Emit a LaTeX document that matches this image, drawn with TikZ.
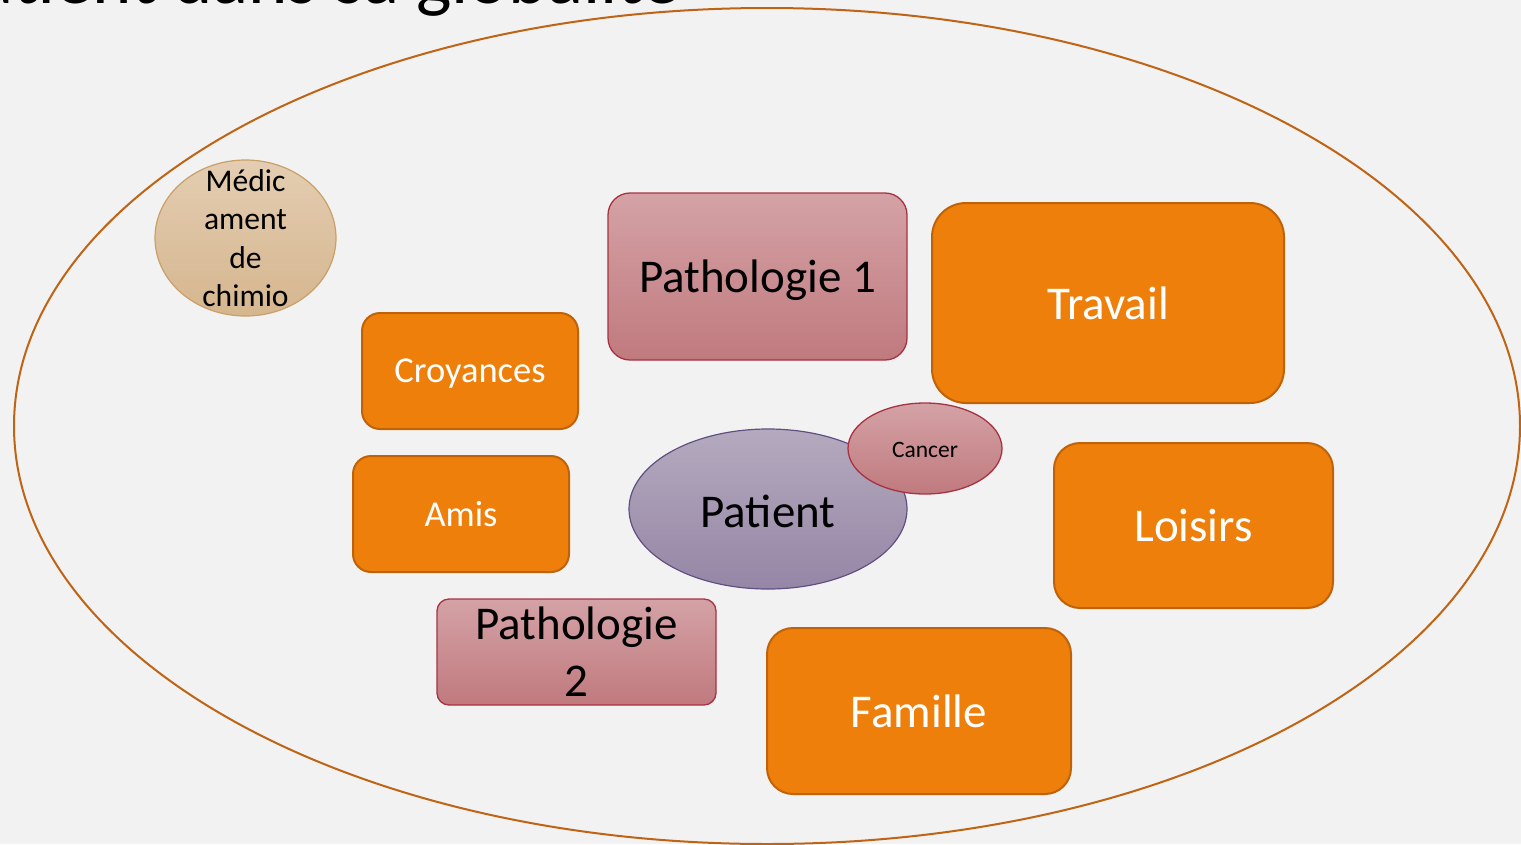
\documentclass[tikz,border=0pt]{standalone}
\usepackage{fontspec}
\setmainfont{Carlito}
\usetikzlibrary{shapes.geometric}
\definecolor{bg}{RGB}{242,242,242}
\definecolor{orfill}{RGB}{239,127,11}
\definecolor{ordraw}{RGB}{192,98,8}
\definecolor{pttop}{RGB}{212,162,166}
\definecolor{ptbot}{RGB}{192,122,126}
\definecolor{ptdraw}{RGB}{168,50,66}
\definecolor{patop}{RGB}{180,170,190}
\definecolor{pabot}{RGB}{150,134,166}
\definecolor{padraw}{RGB}{96,80,130}
\definecolor{metop}{RGB}{228,205,178}
\definecolor{mebot}{RGB}{213,182,142}
\definecolor{medraw}{RGB}{200,160,104}
\definecolor{world}{RGB}{190,100,20}
\tikzset{
  orbox/.style={draw=ordraw, line width=2pt, fill=orfill, rounded corners=#1, inner sep=0pt, text=white},
  orbox/.default=28pt,
  pathbox/.style={draw=ptdraw, line width=1.3pt, top color=pttop, bottom color=ptbot, rounded corners=#1, inner sep=0pt, text=black},
  pathbox/.default=22pt,
  big/.style={font=\fontsize{47}{57}\selectfont},
  mid/.style={font=\fontsize{36.5}{44}\selectfont},
}
\begin{document}
\begin{tikzpicture}[x=1pt,y=-1pt]
\useasboundingbox[fill=bg] (0,0) rectangle (1521,844);
\node[anchor=base east, font=\fontsize{75}{80}\selectfont, inner sep=0pt] (title) at (680,3) {atient dans sa globalité};
\node[ellipse, draw=world, line width=2pt, minimum width=1506pt, minimum height=836pt, inner sep=0pt] (worldell) at (767,426) {};
% Medicament
\node[ellipse, draw=medraw, line width=1.2pt, top color=metop, bottom color=mebot, minimum width=181pt, minimum height=156pt, inner sep=0pt] (medic) at (245.5,238) {};
\node[align=center, font=\fontsize{31.6}{38.5}\selectfont, inner sep=0pt] (medictxt) at (245.5,238) {Médic\\ament\\de\\chimio};
% boxes
\node[pathbox, big, text depth=0pt, minimum width=299pt, minimum height=167pt] (path1) at (757.5,276.5) {Pathologie 1};
\node[orbox=34pt, big, minimum width=352pt, minimum height=200pt] (travail) at (1108,303) {Travail};
\node[orbox=18pt, mid, text depth=0pt, minimum width=216pt, minimum height=116pt] (croy) at (470,371) {Croyances};
\node[orbox=18pt, mid, minimum width=216pt, minimum height=116pt] (amis) at (461,514) {Amis};
% patient
\node[ellipse, draw=padraw, line width=1.2pt, top color=patop, bottom color=pabot, minimum width=278pt, minimum height=160pt, inner sep=0pt] (patient) at (768,509) {};
\node[big, inner sep=0pt] (patienttxt) at (768,511) {Patient};
\node[ellipse, draw=ptdraw, line width=1.3pt, top color=pttop, bottom color=ptbot, minimum width=154pt, minimum height=91pt, inner sep=0pt] (cancer) at (925,448.5) {};
\node[font=\fontsize{23.5}{28}\selectfont, inner sep=0pt] (cancertxt) at (925,450) {Cancer};
\node[orbox=26pt, big, minimum width=279pt, minimum height=165pt] (loisirs) at (1193.5,525.5) {Loisirs};
\node[pathbox=12pt, big, align=center, minimum width=279pt, minimum height=106pt] (path2) at (576.5,652) {Pathologie\\2};
\node[orbox=26pt, big, minimum width=304pt, minimum height=166pt] (famille) at (919,711) {Famille};
\end{tikzpicture}
\end{document}
